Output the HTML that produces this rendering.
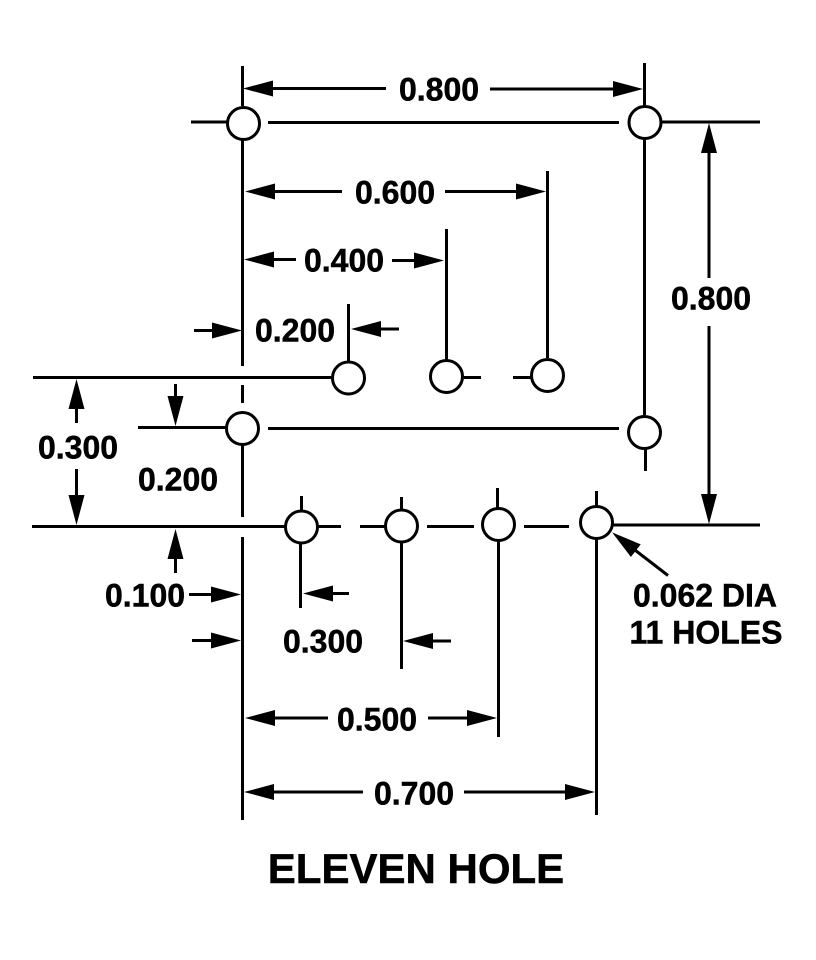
<!DOCTYPE html>
<html><head><meta charset="utf-8"><style>
html,body{margin:0;padding:0;background:#fff}
svg{display:block}
text{font-family:"Liberation Sans",Arial,sans-serif;font-weight:bold;fill:#000;stroke:#000;stroke-width:.5;font-size:32px}
</style></head><body>
<svg width="816" height="960" viewBox="0 0 816 960" xmlns="http://www.w3.org/2000/svg">
<defs>
<marker id="a" viewBox="0 0 31 17" refX="20" refY="8.5" markerWidth="31" markerHeight="17" markerUnits="userSpaceOnUse" orient="auto-start-reverse"><path d="M0 .5L30 8.5L0 16.5Z" fill="#000"/></marker>
</defs>
<g stroke="#000" stroke-width="3" fill="none">
<!-- extension lines -->
<path d="M242.5 66V106M242.5 140V366M242.5 385V403M242.5 445V517M242.5 537V820"/>
<path d="M644.5 63V106M644.5 139V415M645.5 449V471"/>
<path d="M191 122H227M268 122.5H619M661 122H760"/>
<path d="M547.5 171V358M446.5 229V360M348.5 304V361"/>
<path d="M33 377.5H332M464 377.5H481M513 377.5H531"/>
<path d="M138 427.5H226M268 428.5H619"/>
<path d="M32 526.5H285M318 526.5H341M360 526.5H385M427 526.5H474M524 526.5H569M613 525H760"/>
<path d="M300.5 543V608M401.5 542V669M498.5 540V737M596.5 538V815M401.5 497V510M497.5 488V508M596.5 491V506M301.5 496V511"/>
<!-- dimension lines -->
<path d="M253 88.5H386" marker-start="url(#a)"/>
<path d="M490 89H633" marker-end="url(#a)"/>
<path d="M255 191.5H342" marker-start="url(#a)"/>
<path d="M445 191.5H536" marker-end="url(#a)"/>
<path d="M254 259.5H296" marker-start="url(#a)"/>
<path d="M392 260.5H434" marker-end="url(#a)"/>
<path d="M194 330.5H232" marker-end="url(#a)"/>
<path d="M399 329H361" marker-end="url(#a)"/>
<path d="M709 278V133" marker-end="url(#a)"/>
<path d="M709 326V514" marker-end="url(#a)"/>
<path d="M76.5 423V389" marker-end="url(#a)"/>
<path d="M76.5 469V515" marker-end="url(#a)"/>
<path d="M175.5 384V416" marker-end="url(#a)"/>
<path d="M175.5 573V539" marker-end="url(#a)"/>
<path d="M189 594.5H231" marker-end="url(#a)"/>
<path d="M192 640.5H231" marker-end="url(#a)"/>
<path d="M349 593.5H313" marker-end="url(#a)"/>
<path d="M451 641H413" marker-end="url(#a)"/>
<path d="M255 718H328" marker-start="url(#a)"/>
<path d="M428 718H487" marker-end="url(#a)"/>
<path d="M254 792H363" marker-start="url(#a)"/>
<path d="M464 792H585" marker-end="url(#a)"/>
<path d="M668 575.5L620 538.5" marker-end="url(#a)"/>
<!-- holes -->
<circle cx="243.5" cy="123.5" r="16"/>
<circle cx="645" cy="122.5" r="16"/>
<circle cx="348.5" cy="378" r="16"/>
<circle cx="446.5" cy="376.5" r="16"/>
<circle cx="547.5" cy="375.5" r="16"/>
<circle cx="242.5" cy="428.5" r="16"/>
<circle cx="644.5" cy="432.5" r="16"/>
<circle cx="301.5" cy="527" r="16"/>
<circle cx="401.5" cy="526" r="16"/>
<circle cx="498.5" cy="524.5" r="16"/>
<circle cx="596.5" cy="522.5" r="16"/>
</g>
<text x="439" y="100.5" text-anchor="middle">0.800</text>
<text x="395" y="203.5" text-anchor="middle">0.600</text>
<text x="344" y="271.5" text-anchor="middle">0.400</text>
<text x="295" y="341.5" text-anchor="middle">0.200</text>
<text x="711" y="309.5" text-anchor="middle">0.800</text>
<text x="78" y="458.5" text-anchor="middle">0.300</text>
<text x="178" y="490.5" text-anchor="middle">0.200</text>
<text x="145" y="606.5" text-anchor="middle">0.100</text>
<text x="323" y="652.5" text-anchor="middle">0.300</text>
<text x="377" y="730.5" text-anchor="middle">0.500</text>
<text x="414" y="804.5" text-anchor="middle">0.700</text>
<text x="705" y="606.5" text-anchor="middle">0.062 DIA</text>
<text x="706" y="643.5" text-anchor="middle">11 HOLES</text>
<text x="416" y="883" text-anchor="middle" style="font-size:42px">ELEVEN HOLE</text>
</svg>
</body></html>
